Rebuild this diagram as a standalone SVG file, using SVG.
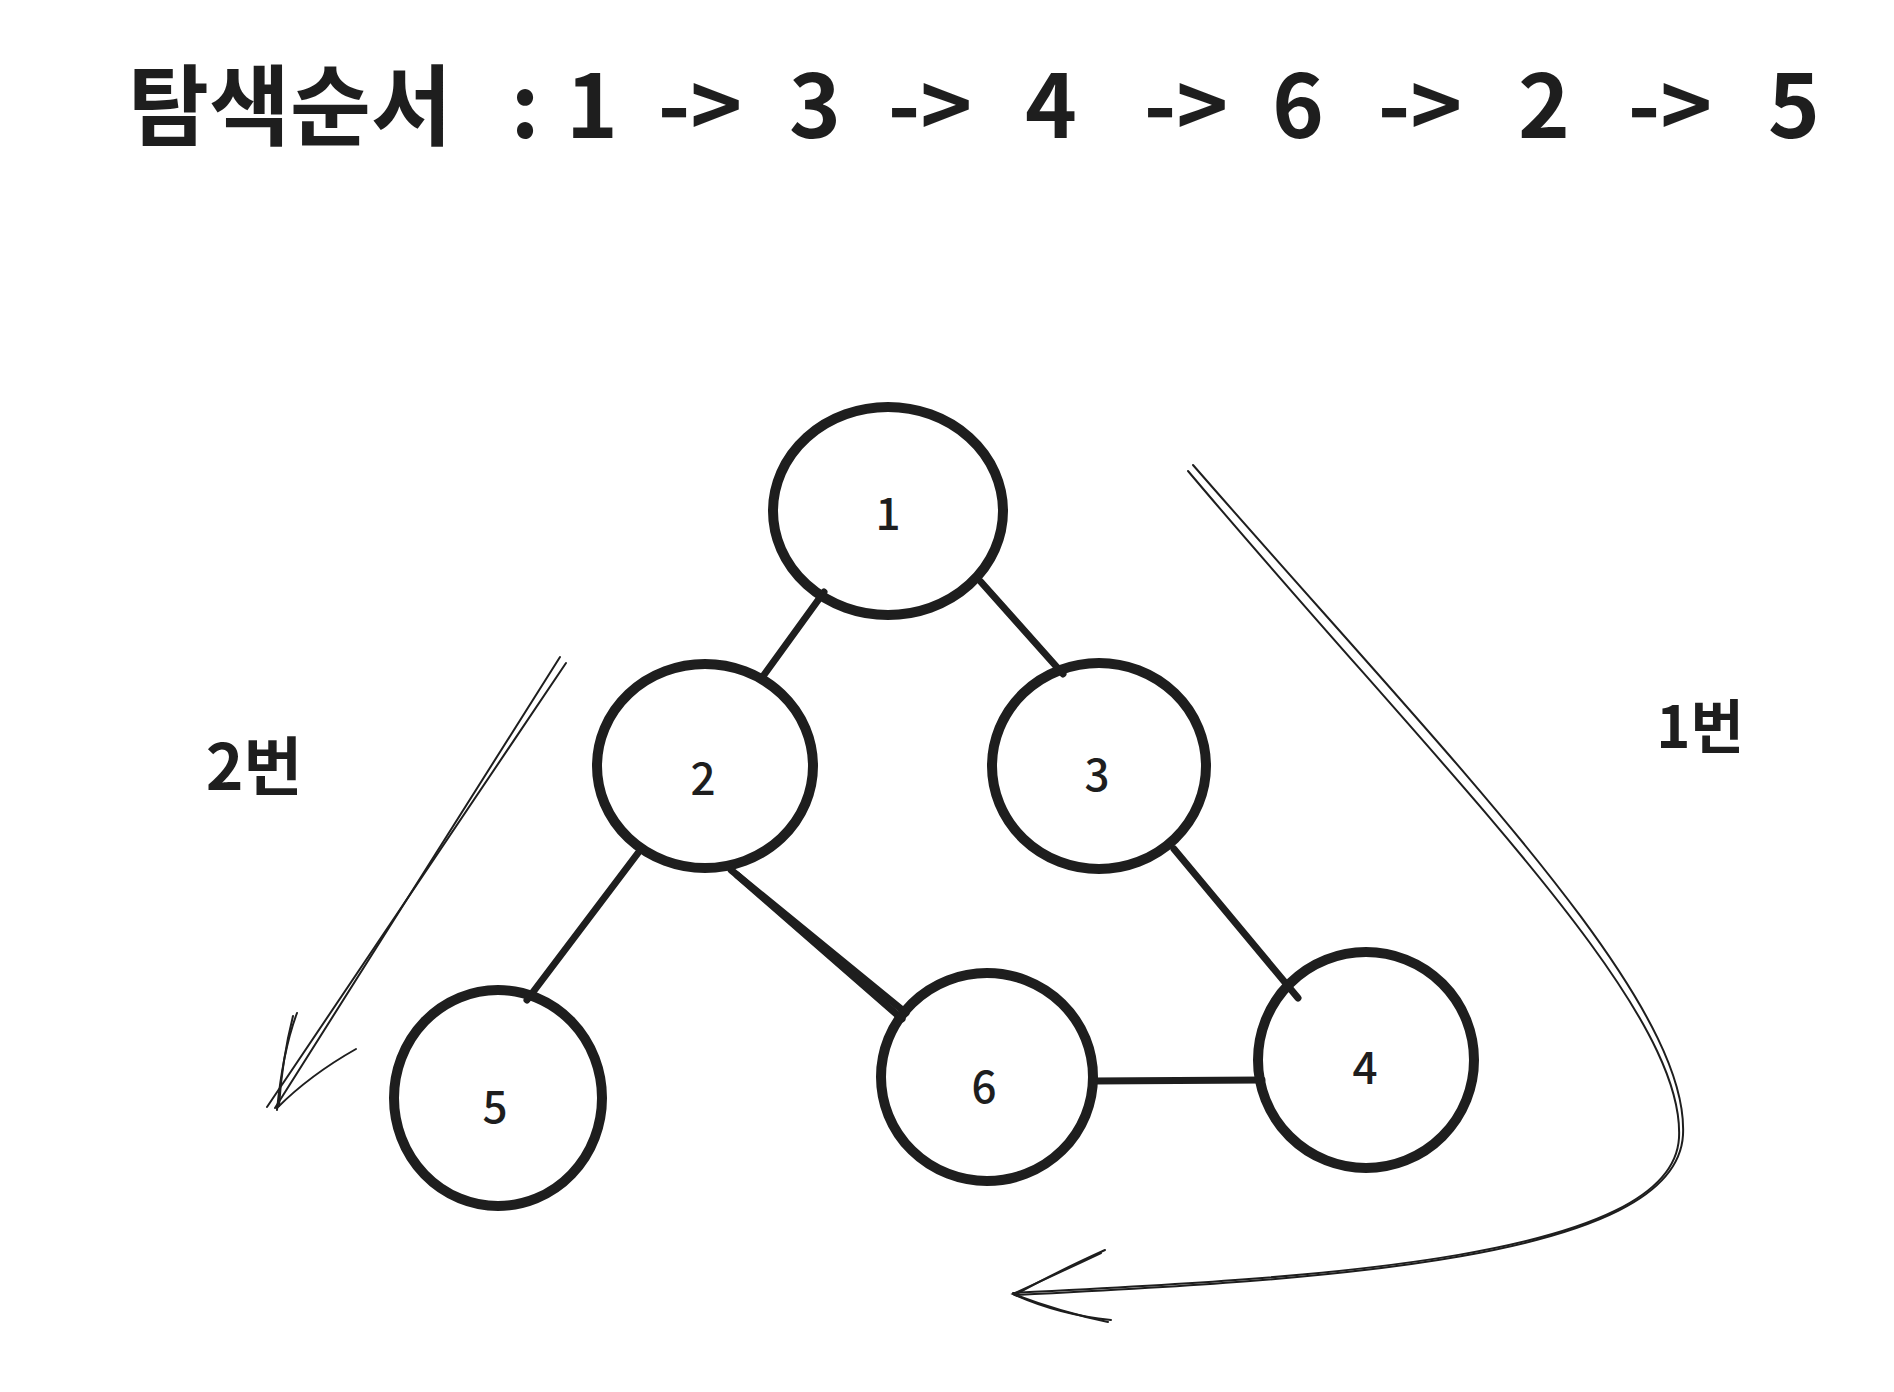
<svg xmlns="http://www.w3.org/2000/svg" width="1894" height="1392" viewBox="0 0 1894 1392">
<style>
.node{fill:none;stroke:#1e1e1e;stroke-width:10;stroke-linecap:round}
.edge{stroke:#1e1e1e;stroke-width:7;stroke-linecap:round;fill:none}
.thin{stroke:#1e1e1e;stroke-width:2;stroke-linecap:round;fill:none}
.lbl{font-family:"Noto Sans CJK KR","Noto Sans",sans-serif;font-weight:700;fill:#1e1e1e;text-anchor:middle}
.num{font-family:"Noto Sans CJK KR","Noto Sans",sans-serif;font-weight:500;fill:#1e1e1e;text-anchor:middle}
</style>
<rect width="1894" height="1392" fill="#ffffff"/>
<text class="lbl" font-size="88" y="138"><tspan x="290">탐색순서</tspan><tspan x="525"> : </tspan><tspan x="592">1</tspan><tspan x="700">-&gt;</tspan><tspan x="815">3</tspan><tspan x="930">-&gt;</tspan><tspan x="1051">4</tspan><tspan x="1186">-&gt;</tspan><tspan x="1298">6</tspan><tspan x="1420">-&gt;</tspan><tspan x="1544">2</tspan><tspan x="1670">-&gt;</tspan><tspan x="1794">5</tspan></text>
<g id="connectors">
<line class="edge" x1="824" y1="592" x2="761" y2="679"/>
<line class="edge" x1="981" y1="582" x2="1063" y2="674"/>
<line class="edge" x1="638" y1="853" x2="527" y2="1000"/>
<line class="edge" x1="731" y1="870" x2="906" y2="1013"/>
<line class="edge" x1="737" y1="875" x2="902" y2="1019"/>
<line class="edge" x1="1174" y1="849" x2="1298" y2="998"/>
<line class="edge" x1="1093" y1="1081" x2="1262" y2="1080"/>
<g id="arrow-2">
<path class="thin" d="M560,657 L275,1108"/>
<path class="thin" d="M566,663 L267,1107"/>
<path class="thin" d="M297,1013 Q283,1050 277,1110"/>
<path class="thin" d="M293,1016 Q282,1060 279,1106"/>
<path class="thin" d="M356,1049 Q310,1075 277,1108"/>
</g>
<g id="arrow-1">
<path class="thin" d="M1193,465 C1450,760 1690,1000 1683,1135 C1676,1260 1320,1280 1015,1295"/>
<path class="thin" d="M1188,471 C1440,770 1686,1005 1679,1138 C1672,1258 1320,1278 1013,1293"/>
<path class="thin" d="M1105,1250 Q1050,1275 1015,1295 Q1060,1315 1111,1320"/>
<path class="thin" d="M1101,1253 Q1050,1277 1013,1294 Q1060,1312 1108,1322"/>
</g>
</g>
<g id="node-1"><ellipse class="node" cx="888" cy="511" rx="115" ry="104"/><text class="num" font-size="44" x="888" y="530">1</text></g>
<g id="node-2"><ellipse class="node" cx="705" cy="766" rx="108" ry="102"/><text class="num" font-size="44" x="703" y="795">2</text></g>
<g id="node-3"><ellipse class="node" cx="1099" cy="766" rx="107" ry="103"/><text class="num" font-size="44" x="1097" y="791">3</text></g>
<g id="node-5"><ellipse class="node" cx="498" cy="1098" rx="104" ry="108"/><text class="num" font-size="44" x="495" y="1123">5</text></g>
<g id="node-6"><ellipse class="node" cx="987" cy="1077" rx="106" ry="104"/><text class="num" font-size="44" x="984" y="1103">6</text></g>
<g id="node-4"><ellipse class="node" cx="1366" cy="1060" rx="108" ry="108"/><text class="num" font-size="44" x="1365" y="1084">4</text></g>
<g id="label-2"><text class="lbl" font-size="64" x="254" y="790">2번</text></g>
<g id="label-1"><text class="lbl" font-size="58" x="1700" y="748">1번</text></g>
</svg>
